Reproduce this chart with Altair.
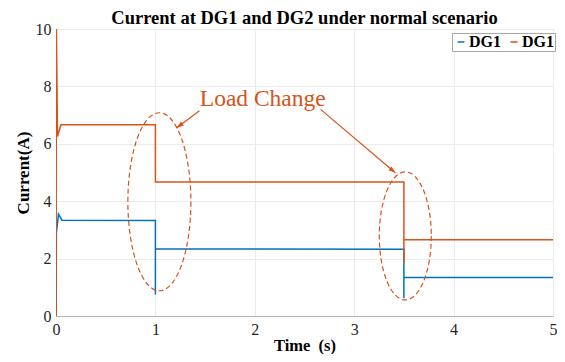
import math
import altair as alt
import pandas as pd

# ---- data ----
dg1_t = [0.0, 0.004, 0.025, 0.06, 1.0, 1.0, 1.0, 3.5, 3.5, 3.5, 5.0]
dg1_v = [0.0, 2.9, 3.55, 3.34, 3.33, 0.75, 2.34, 2.33, 0.62, 1.34, 1.34]

dg2_t = [0.0, 0.004, 0.015, 0.05, 1.0, 1.0, 3.5, 3.5, 3.5, 5.0]
dg2_v = [0.0, 10.0, 6.25, 6.66, 6.66, 4.67, 4.67, 1.85, 2.66, 2.66]

series_names = ["DG1", "DG2"]
legend_labels = ["DG1", "DG1"]
colors = ["#0072BD", "#D95319"]

x_ticks = [0, 1, 2, 3, 4, 5]
y_ticks = [0, 2, 4, 6, 8, 10]

# annotation (data coordinates)
note_text = "Load Change"
note_t, note_v = 2.08, 7.32
ell_t = [1.04, 3.514]
ell_v = [3.98, 2.79]
ell_rx_px = [31.5, 26.0]
ell_ry_px = [89.0, 64.0]
arrow_t0 = [1.443, 2.662]
arrow_v0 = [7.15, 7.20]
arrow_t1 = [1.215, 3.414]
arrow_v1 = [6.56, 4.99]

W, H = 497, 287
XMAX, YMAX = 5, 10
ORANGE = "#D95319"
FONT = "Liberation Serif"

rows = []
for i, (t, v) in enumerate(zip(dg1_t, dg1_v)):
    rows.append({"t": t, "v": v, "s": series_names[0], "o": i})
for i, (t, v) in enumerate(zip(dg2_t, dg2_v)):
    rows.append({"t": t, "v": v, "s": series_names[1], "o": i})
df = pd.DataFrame(rows)

xs = alt.Scale(domain=[0, XMAX], nice=False)
ys = alt.Scale(domain=[0, YMAX], nice=False)

label_expr = "datum.label == 'DG2' ? '%s' : '%s'" % (legend_labels[1], legend_labels[0])

axis_common = dict(labelFont=FONT, labelFontSize=16, labelColor="#262626",
                   titleFont=FONT, titleFontWeight="bold", titleColor="black",
                   gridColor="#ebebeb", gridWidth=1, domainColor="#b4b4b4", ticks=False,
                   format="d", labelFlush=False)

lines = alt.Chart(df).mark_line(strokeWidth=1.5, clip=True).encode(
    x=alt.X("t:Q", scale=xs, axis=alt.Axis(title="Time\u00a0\u00a0(s)", values=x_ticks,
                                           labelPadding=5, titlePadding=0, titleFontSize=16.5,
                                           **axis_common)),
    y=alt.Y("v:Q", scale=ys, axis=alt.Axis(title="Current(A)", values=y_ticks,
                                           labelPadding=5, titlePadding=3, titleFontSize=17,
                                           **axis_common)),
    color=alt.Color("s:N", scale=alt.Scale(domain=series_names, range=colors),
                    legend=alt.Legend(title=None, orient="none", legendX=396, legendY=4,
                                      direction="horizontal", columns=2,
                                      symbolType="stroke", symbolSize=49, symbolStrokeWidth=1.5,
                                      labelFont=FONT, labelFontSize=16, labelFontWeight="bold",
                                      labelColor="black", labelOffset=0, columnPadding=5,
                                      padding=1, strokeColor="#a8a8a8", fillColor="white",
                                      labelExpr=label_expr)),
    order="o:Q",
)


def ellipse_path(a):
    k = 0.5523
    return ("M {a} 0 C {a} {k} {ka} 1 0 1 C {nka} 1 {na} {k} {na} 0 "
            "C {na} {nk} {nka} -1 0 -1 C {ka} -1 {a} {nk} {a} 0 Z").format(
        a=a, na=-a, k=k, nk=-k, ka=k * a, nka=-k * a)


ell_layers = []
for t, v, rx, ry in zip(ell_t, ell_v, ell_rx_px, ell_ry_px):
    edf = pd.DataFrame({"t": [t], "v": [v]})
    ell_layers.append(
        alt.Chart(edf).mark_point(shape=ellipse_path(round(rx / ry, 4)), size=(2 * ry) ** 2,
                                  filled=False, stroke=ORANGE, strokeWidth=1.2,
                                  strokeDash=[5, 3], opacity=1).encode(
            x=alt.X("t:Q", scale=xs), y=alt.Y("v:Q", scale=ys))
    )

px_x = W / XMAX
px_y = H / YMAX
angles = []
for t0, v0, t1, v1 in zip(arrow_t0, arrow_v0, arrow_t1, arrow_v1):
    dx = (t1 - t0) * px_x
    dy = -(v1 - v0) * px_y
    angles.append((math.degrees(math.atan2(dx, -dy)) + 360) % 360)

adf = pd.DataFrame({"t0": arrow_t0, "v0": arrow_v0, "t1": arrow_t1, "v1": arrow_v1, "ang": angles})

arrow_lines = alt.Chart(adf).mark_rule(color=ORANGE, strokeWidth=1.2).encode(
    x=alt.X("t0:Q", scale=xs), y=alt.Y("v0:Q", scale=ys), x2="t1:Q", y2="v1:Q")
arrow_heads = alt.Chart(adf).mark_point(shape="M 0 0 L -0.35 1 L 0.35 1 Z", size=196,
                                        filled=True, color=ORANGE, opacity=1).encode(
    x=alt.X("t1:Q", scale=xs), y=alt.Y("v1:Q", scale=ys), angle=alt.Angle("ang:Q", scale=None))

note = alt.Chart(pd.DataFrame({"t": [note_t], "v": [note_v], "txt": [note_text]})).mark_text(
    font=FONT, fontSize=23.5, color=ORANGE, align="center", baseline="alphabetic").encode(
    x=alt.X("t:Q", scale=xs), y=alt.Y("v:Q", scale=ys), text="txt:N")

chart = alt.layer(lines, *ell_layers, arrow_lines, arrow_heads, note).properties(
    width=W, height=H,
    title=alt.Title("Current at DG1 and DG2 under normal scenario", font=FONT, fontSize=18.5,
                    fontWeight="bold", color="black", anchor="middle", offset=2, dy=8),
    autosize=alt.AutoSizeParams(type="none"),
    padding={"left": 48, "top": 21, "right": 4, "bottom": 38},
).configure_view(stroke="#b4b4b4", strokeWidth=1)

chart.save("out.html", embed_options={"renderer": "svg", "actions": False})
